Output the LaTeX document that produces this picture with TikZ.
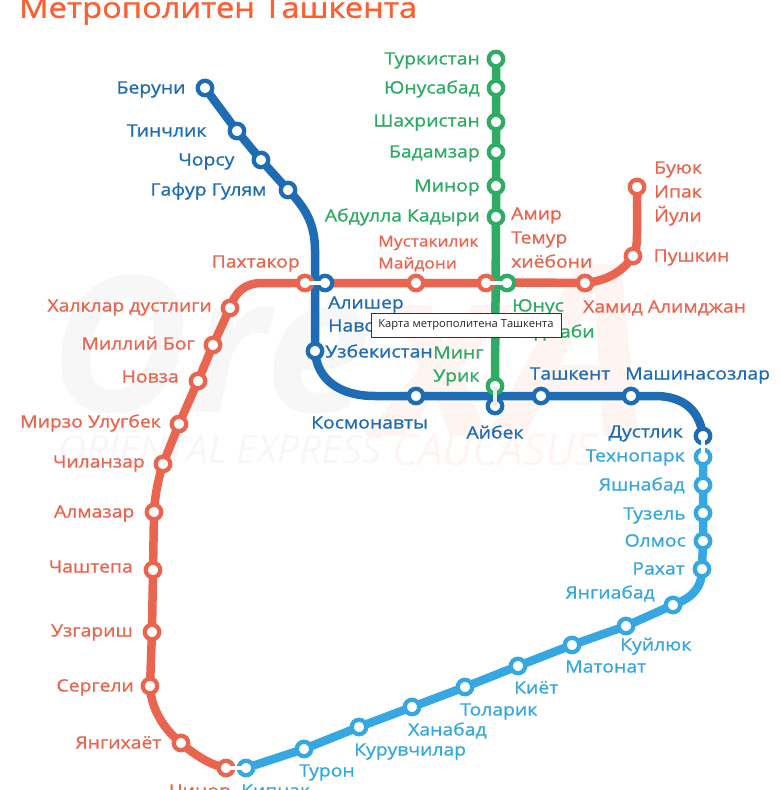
\documentclass[tikz,border=0pt]{standalone}
\usepackage{fontspec}
\setmainfont[FakeStretch=1.14,FakeBold=1.1]{Open Sans}
\newfontfamily\markfont{Open Sans}
\usetikzlibrary{positioning,backgrounds}
\definecolor{redline}{HTML}{EA654F}
\definecolor{blueline}{HTML}{1E6DB4}
\definecolor{greenline}{HTML}{2EAB64}
\definecolor{skyline}{HTML}{36A7E0}
\definecolor{titlered}{HTML}{FF5F30}
\definecolor{markgrey}{HTML}{F7F7F7}
\definecolor{markpink}{HTML}{FEF5F2}

\begin{document}
\begin{tikzpicture}[
    x=1bp, y=-1bp,
    node distance=6bp,
    station/.style={circle, draw, fill=white, line width=4.3bp, minimum size=14.5bp, inner sep=0pt},
    redst/.style={station, draw=redline},
    bluest/.style={station, draw=blueline},
    greenst/.style={station, draw=greenline},
    skyst/.style={station, draw=skyline},
    lbl/.style={font=\fontsize{17bp}{20bp}\selectfont, inner sep=0pt, text height=12bp, text depth=3bp, yshift=-1bp},
    redlbl/.style={lbl, text=redline},
    smalllbl/.style={redlbl, font=\fontsize{15.2bp}{18bp}\selectfont},
    bluelbl/.style={lbl, text=blueline},
    greenlbl/.style={lbl, text=greenline},
    skylbl/.style={lbl, text=skyline},
    metro/.style={line width=8.5bp, line cap=round},
    link/.style={white, line width=4.8bp}
]
    \clip (0,0) rectangle (783,790);

    \node[anchor=west, inner sep=0pt, text=titlered, font=\fontsize{28.6bp}{32bp}\selectfont] (title) at (19,11) {Метрополитен Ташкента};

    % red line stations
    \node[redst] (buyuk) at (637,187) {};
    \node[redst] (pushkin) at (633,256) {};
    \node[redst] (hamid) at (585,283) {};
    \node[redst] (amir) at (486,283) {};
    \node[redst] (mustakilik) at (416,283) {};
    \node[redst] (pahtakor) at (305,283) {};
    \node[redst] (halklar) at (230,308) {};
    \node[redst] (milliy) at (213,345) {};
    \node[redst] (novza) at (198,381) {};
    \node[redst] (mirzo) at (179,424) {};
    \node[redst] (chilanzar) at (163,464) {};
    \node[redst] (almazar) at (154,512) {};
    \node[redst] (chashtepa) at (153,570) {};
    \node[redst] (uzgarish) at (152,632) {};
    \node[redst] (sergeli) at (150,686) {};
    \node[redst] (yangihayot) at (181,743) {};
    \node[redst] (chinor) at (226,768) {};

    % blue line stations
    \node[bluest] (beruni) at (205,88) {};
    \node[bluest] (tinchlik) at (237,131) {};
    \node[bluest] (chorsu) at (261,160) {};
    \node[bluest] (gafur) at (288,190) {};
    \node[bluest] (alisher) at (325,283) {};
    \node[bluest] (uzbekistan) at (315,351) {};
    \node[bluest] (kosmonavty) at (416,396) {};
    \node[bluest] (aybek) at (495,406) {};
    \node[bluest] (tashkent) at (541,396) {};
    \node[bluest] (mashina) at (631,396) {};
    \node[bluest] (dustlik) at (703,436) {};

    % green line stations
    \node[greenst] (turkistan) at (496,59) {};
    \node[greenst] (yunusabad) at (496,88) {};
    \node[greenst] (shahristan) at (496,122) {};
    \node[greenst] (badamzar) at (496,152) {};
    \node[greenst] (minor) at (496,186) {};
    \node[greenst] (abdulla) at (496,217) {};
    \node[greenst] (yunus) at (507,283) {};
    \node[greenst] (ming) at (495,386) {};

    % light blue line stations
    \node[skyst] (tehnopark) at (703,457) {};
    \node[skyst] (yashnabad) at (703,485) {};
    \node[skyst] (tuzel) at (703,513) {};
    \node[skyst] (olmos) at (703,541) {};
    \node[skyst] (rahat) at (702,569) {};
    \node[skyst] (yangiabad) at (673,605) {};
    \node[skyst] (kuyluk) at (626,626) {};
    \node[skyst] (matonat) at (572,645) {};
    \node[skyst] (kiyot) at (518,666) {};
    \node[skyst] (tolarik) at (465,687) {};
    \node[skyst] (hanabad) at (412,707) {};
    \node[skyst] (kuruvchilar) at (359,727) {};
    \node[skyst] (turon) at (304,749) {};
    \node[skyst] (kipchak) at (246,768) {};

    \begin{scope}[on background layer]
        \node[anchor=west, inner sep=0pt, text=markgrey, font=\markfont\fontsize{190bp}{190bp}\selectfont\bfseries\itshape] (markore) at (50,345) {Ore};
        \node[anchor=west, inner sep=0pt, text=markpink, font=\markfont\fontsize{240bp}{240bp}\selectfont\bfseries\itshape] (markxa) at (375,350) {xA};
        \node[anchor=west, inner sep=0pt, text=markgrey, font=\markfont\fontsize{39bp}{44bp}\selectfont\itshape] (markorient) at (58,450) {ORIENTAL EXPRESS};
        \node[anchor=west, inner sep=0pt, text=markpink, font=\markfont\fontsize{44bp}{44bp}\selectfont\itshape] (markcauc) at (392,450) {CAUCASUS};

        \draw[metro, redline] (buyuk.center) -- (637,235) .. controls (637,248) and (635,252) .. (pushkin.center)
            .. controls (622,273) and (605,281) .. (hamid.center) .. controls (560,283) and (530,282) .. (amir.center)
            -- (mustakilik.center) -- (pahtakor.center) -- (262,283) .. controls (245,283) and (235,292) .. (halklar.center)
            -- (milliy.center) -- (novza.center) -- (mirzo.center) -- (chilanzar.center)
            .. controls (158,480) and (155,495) .. (almazar.center) -- (chashtepa.center) -- (uzgarish.center) -- (sergeli.center)
            .. controls (151,710) and (165,730) .. (yangihayot.center) .. controls (195,755) and (210,765) .. (chinor.center);
        \draw[metro, greenline] (turkistan.center) -- (yunusabad.center) -- (shahristan.center) -- (badamzar.center)
            -- (minor.center) -- (abdulla.center) -- (ming.center);
        \draw[metro, blueline] (beruni.center) -- (tinchlik.center) -- (chorsu.center) -- (gafur.center)
            .. controls (306,208) and (315,225) .. (315,250) -- (uzbekistan.center)
            .. controls (317,380) and (340,396) .. (375,396) -- (kosmonavty.center) -- (tashkent.center) -- (mashina.center)
            -- (655,396) .. controls (685,396) and (700,412) .. (dustlik.center);
        \draw[metro, skyline] (tehnopark.center) -- (yashnabad.center) -- (tuzel.center) -- (olmos.center) -- (rahat.center)
            .. controls (702,588) and (692,598) .. (yangiabad.center) -- (kuyluk.center) -- (matonat.center) -- (kiyot.center)
            -- (tolarik.center) -- (hanabad.center) -- (kuruvchilar.center) -- (turon.center) -- (kipchak.center);
    \end{scope}

    % transfers
    \draw[link] (pahtakor.center) -- (alisher.center);
    \draw[link] (amir.center) -- (yunus.center);
    \draw[link, white!92!black] (ming.center) -- (aybek.center);
    \draw[link] (chinor.center) -- (kipchak.center);
    \draw[link] (dustlik.center) -- (tehnopark.center);

    % red labels
    \node[redlbl, anchor=west] (buyukl) at (654,168) {Буюк};
    \node[redlbl, anchor=west] (ipakl) at (654,192) {Ипак};
    \node[redlbl, anchor=west] (yulil) at (654,216) {Йули};
    \node[redlbl, right=11bp of pushkin] (pushkinl) {Пушкин};
    \node[redlbl, anchor=west] (hamidl) at (583,307) {Хамид Алимджан};
    \node[redlbl, anchor=west] (amirl) at (511,214) {Амир};
    \node[redlbl, anchor=west] (temurl) at (511,238) {Темур};
    \node[redlbl, anchor=west] (hiyobonil) at (511,262) {хиёбони};
    \node[smalllbl, anchor=west] (mustakilikl) at (378,241) {Мустакилик};
    \node[smalllbl, anchor=west] (maydonil) at (378,263) {Майдони};
    \node[redlbl, anchor=east] (pahtakorl) at (300,262) {Пахтакор};
    \node[redlbl, anchor=east] (halklarl) at (212,306) {Халклар дустлиги};
    \node[redlbl, anchor=east] (milliyl) at (195,344) {Миллий Бог};
    \node[redlbl, anchor=east] (novzal) at (179,377) {Новза};
    \node[redlbl, anchor=east] (mirzol) at (161,422) {Мирзо Улугбек};
    \node[redlbl, anchor=east] (chilanzarl) at (145,462) {Чиланзар};
    \node[redlbl, left=10bp of almazar] (almazarl) {Алмазар};
    \node[redlbl, anchor=east] (chashtepal) at (133,567) {Чаштепа};
    \node[redlbl, anchor=east] (uzgarishl) at (133,631) {Узгариш};
    \node[redlbl, anchor=east] (sergelil) at (134,686) {Сергели};
    \node[redlbl, left=10bp of yangihayot] (yangihayotl) {Янгихаёт};
    \node[redlbl, anchor=east] (chinorl) at (231,791) {Чинор};

    % blue labels
    \node[bluelbl, left=10bp of beruni] (berunil) {Беруни};
    \node[bluelbl, left=21bp of tinchlik] (tinchlikl) {Тинчлик};
    \node[bluelbl, left=17bp of chorsu] (chorsul) {Чорсу};
    \node[bluelbl, left=12bp of gafur] (gafurl) {Гафур Гулям};
    \node[bluelbl, anchor=west] (alisherl) at (328,303) {Алишер};
    \node[bluelbl, anchor=west] (navoil) at (328,326) {Навои};
    \node[bluelbl, anchor=west] (uzbekistanl) at (325,352) {Узбекистан};
    \node[bluelbl, anchor=west] (kosmonavtyl) at (311,423) {Космонавты};
    \node[bluelbl] (aybekl) at (495,433) {Айбек};
    \node[bluelbl] (tashkentl) at (570,374) {Ташкент};
    \node[bluelbl, anchor=west] (mashinal) at (625,374) {Машинасозлар};
    \node[bluelbl, anchor=east] (dustlikl) at (683,432) {Дустлик};

    % green labels
    \node[greenlbl, anchor=east] (turkistanl) at (480,59) {Туркистан};
    \node[greenlbl, anchor=east] (yunusabadl) at (480,88) {Юнусабад};
    \node[greenlbl, anchor=east] (shahristanl) at (480,121) {Шахристан};
    \node[greenlbl, anchor=east] (badamzarl) at (480,152) {Бадамзар};
    \node[greenlbl, anchor=east] (minorl) at (480,186) {Минор};
    \node[greenlbl, anchor=east] (abdullal) at (480,216) {Абдулла Кадыри};
    \node[greenlbl, anchor=west] (yunusl) at (512,306) {Юнус};
    \node[greenlbl, anchor=west] (radjabil) at (512,332) {Раджаби};
    \node[greenlbl, anchor=west] (mingl) at (433,353) {Минг};
    \node[greenlbl, anchor=west] (urikl) at (433,376) {Урик};

    % light blue labels
    \node[skylbl, anchor=east] (tehnoparkl) at (685,456) {Технопарк};
    \node[skylbl, anchor=east] (yashnabadl) at (685,485) {Яшнабад};
    \node[skylbl, anchor=east] (tuzell) at (686,514) {Тузель};
    \node[skylbl, anchor=east] (olmosl) at (686,541) {Олмос};
    \node[skylbl, anchor=east] (rahatl) at (685,569) {Рахат};
    \node[skylbl, anchor=east] (yangiabadl) at (655,593) {Янгиабад};
    \node[skylbl, anchor=west] (kuylukl) at (620,645) {Куйлюк};
    \node[skylbl, anchor=west] (matonatl) at (565,667) {Матонат};
    \node[skylbl, anchor=west] (kiyotl) at (514,688) {Киёт};
    \node[skylbl, anchor=west] (tolarikl) at (460,710) {Толарик};
    \node[skylbl, anchor=west] (hanabadl) at (408,730) {Ханабад};
    \node[skylbl, anchor=west] (kuruvchilarl) at (354,750) {Курувчилар};
    \node[skylbl, anchor=west] (turonl) at (299,771) {Турон};
    \node[skylbl, anchor=west] (kipchakl) at (241,791) {Кипчак};

    % tooltip over the map
    \node[draw=black!80, fill=white, line width=0.8bp, minimum width=190bp, minimum height=24bp, inner sep=0pt,
        font=\markfont\fontsize{11.2bp}{13bp}\selectfont, text=black!85] (tooltip) at (466,325) {Карта метрополитена Ташкента};
\end{tikzpicture}
\end{document}
